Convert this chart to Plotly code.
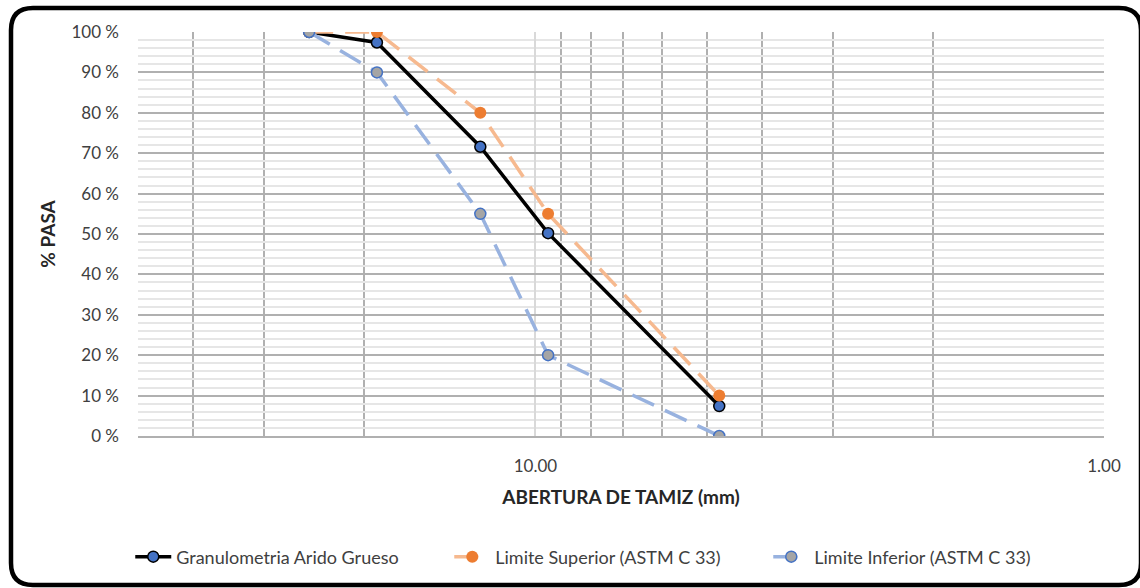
import plotly.graph_objects as go
import math

# ---- data ----
abertura_mm = [25, 19, 12.5, 9.5, 4.75]
granulometria = [100, 97.4, 71.6, 50.2, 7.4]
limite_superior = [100, 100, 80, 55, 10]
limite_inferior = [100, 90, 55, 20, 0]

x_tick_vals = [10, 1]
x_tick_text = ["10.00", "1.00"]
x_minor_vals = [50, 40, 30, 20, 9, 8, 7, 6, 5, 4, 3, 2]

W, H = 1140, 588
L, R, T, B = 138, 36, 32, 152
FONT = "Lato"

fig = go.Figure()

fig.add_trace(go.Scatter(
    x=abertura_mm, y=granulometria, name="Granulometria Arido Grueso",
    mode="lines+markers",
    line=dict(color="#000000", width=3.5),
    marker=dict(size=11, color="#4472C4", line=dict(color="#000000", width=1.5)),
))
fig.add_trace(go.Scatter(
    x=abertura_mm, y=limite_superior, name="Limite Superior (ASTM C 33)",
    mode="lines+markers",
    line=dict(color="#F6B98F", width=3.5, dash="24px,12px"),
    marker=dict(size=12, color="#ED7D31", line=dict(width=0)),
))
fig.add_trace(go.Scatter(
    x=abertura_mm, y=limite_inferior, name="Limite Inferior (ASTM C 33)",
    mode="lines+markers",
    line=dict(color="#98B2DF", width=3.5, dash="24px,12px"),
    marker=dict(size=11, color="#A5A5A5", line=dict(color="#4472C4", width=1.5)),
))

# ---- rounded frame around the chart (pixel -> paper) ----
def px(xp):
    return (xp - L) / (W - L - R)

def py(yp):
    return (H - B - yp) / (H - T - B)

x0, x1, y0, y1, r = 11, 1141, 8, 585, 22
pts = [
    ("M", (x0 + r, y0)), ("L", (x1 - r, y0)), ("Q", (x1, y0), (x1, y0 + r)),
    ("L", (x1, y1 - r)), ("Q", (x1, y1), (x1 - r, y1)),
    ("L", (x0 + r, y1)), ("Q", (x0, y1), (x0, y1 - r)),
    ("L", (x0, y0 + r)), ("Q", (x0, y0), (x0 + r, y0)),
]
path = ""
for seg in pts:
    cmd = seg[0]
    coords = " ".join(f"{px(a):.5f},{py(b):.5f}" for a, b in seg[1:])
    path += f"{cmd}{coords} "
path += "Z"
fig.add_shape(type="path", path=path, xref="paper", yref="paper",
              line=dict(color="#000000", width=4.5), layer="above")

fig.update_layout(
    width=W, height=H,
    margin=dict(l=L, r=R, t=T, b=B, pad=0, autoexpand=False),
    paper_bgcolor="#FFFFFF", plot_bgcolor="#FFFFFF",
    font=dict(family=FONT, size=17, color="#404040"),
    showlegend=True,
    legend=dict(orientation="h", xref="container", yref="container",
                x=0.534, xanchor="center", y=(H - 557) / H, yanchor="middle",
                bgcolor="rgba(0,0,0,0)",
                font=dict(family=FONT, size=18, color="#404040"),
                itemwidth=36, tracegroupgap=0,
                entrywidth=268, entrywidthmode="pixels"),
)

fig.update_xaxes(
    type="log", range=[math.log10(50), math.log10(1)],
    tickmode="array", tickvals=x_tick_vals, ticktext=x_tick_text,
    showgrid=True, gridcolor="#D9D9D9", gridwidth=1.5,
    minor=dict(tickmode="array", tickvals=x_minor_vals, showgrid=True,
               gridcolor="#B0B0B0", gridwidth=1.5, ticks=""),
    showline=True, linecolor="#B0B0B0", linewidth=1.5,
    ticks="", ticklabelstandoff=14,
    tickfont=dict(family=FONT, size=17, color="#404040"),
    title=dict(text="<b>ABERTURA DE TAMIZ (mm)</b>", standoff=16,
               font=dict(family=FONT, size=19, color="#262626")),
    zeroline=False,
)
fig.update_yaxes(
    range=[0, 100], dtick=10, ticksuffix=" %",
    showgrid=True, gridcolor="#B0B0B0", gridwidth=1.5,
    minor=dict(dtick=2, showgrid=True, gridcolor="#E6E6E6", gridwidth=1.5, ticks=""),
    zeroline=False, ticks="", ticklabelstandoff=18,
    tickfont=dict(family=FONT, size=17, color="#404040"),
    title=dict(text="<b>% PASA</b>", standoff=10,
               font=dict(family=FONT, size=19, color="#262626")),
)

fig.write_html("out.html")
